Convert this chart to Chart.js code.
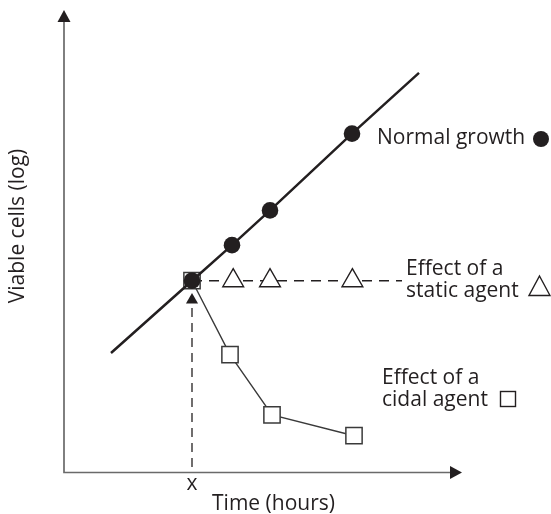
<!DOCTYPE html>
<html>
<head>
<meta charset="utf-8">
<script src="https://cdn.jsdelivr.net/npm/chart.js@4"></script>
<style>
  html, body { margin: 0; padding: 0; background: #fff; }
  canvas { display: block; }
</style>
</head>
<body>
<canvas id="growth" width="551" height="514" style="width:551px;height:514px"></canvas>
<script>
// Time points (arbitrary hour units) and log viable-cell levels
const growthTimes   = [3.2, 4.2, 5.15, 7.2];
const normalGrowth  = [4.8, 5.69, 6.56, 8.48];
const growthLineEnds = [[1.175, 2.99], [8.875, 10.0]];   // extent of the drawn growth line

const staticTimes   = [3.2, 4.23, 5.15, 7.21];
const staticAgent   = [4.8, 4.8, 4.8, 4.8];
const staticLineEnd = 8.45;

const cidalTimes    = [3.2, 4.15, 5.2, 7.25];
const cidalAgent    = [4.8, 2.95, 1.44, 0.92];

const treatmentTime = 3.2;      // "x" on the time axis
const treatmentArrowTop = 4.32;

const xLabel = 'Time (hours)';
const yLabel = 'Viable cells (log)';
const treatmentLabel = 'x';

const INK = '#231f20';
const FONT = '21px "Open Sans", "Liberation Sans", Arial, sans-serif';

const zip = (xs, ys) => xs.map((v, i) => ({ x: v, y: ys[i] }));

const growthData = [
  { x: growthLineEnds[0][0], y: growthLineEnds[0][1] },
  ...zip(growthTimes, normalGrowth),
  { x: growthLineEnds[1][0], y: growthLineEnds[1][1] }
];
const staticData = [...zip(staticTimes, staticAgent), { x: staticLineEnd, y: staticAgent[0] }];
const cidalData = zip(cidalTimes, cidalAgent);
const arrowData = [{ x: treatmentTime, y: 0.14 }, { x: treatmentTime, y: treatmentArrowTop }];

// Axes with arrow heads, captions and inline key symbols
const annotate = {
  id: 'annotate',
  beforeDatasetsDraw(chart) {
    const { ctx, scales: { x, y } } = chart;
    const ox = x.getPixelForValue(0), oy = y.getPixelForValue(0);
    ctx.save();
    ctx.strokeStyle = '#6a6a6a';
    ctx.lineWidth = 1.7;
    ctx.beginPath();
    ctx.moveTo(ox, oy + 0.8); ctx.lineTo(ox, 20);
    ctx.moveTo(ox - 0.8, oy); ctx.lineTo(452, oy);
    ctx.stroke();
    ctx.fillStyle = INK;
    ctx.beginPath();
    ctx.moveTo(ox, 10); ctx.lineTo(ox - 6.5, 22); ctx.lineTo(ox + 6.5, 22); ctx.closePath();
    ctx.fill();
    ctx.beginPath();
    ctx.moveTo(462, oy); ctx.lineTo(450, oy - 6.5); ctx.lineTo(450, oy + 6.5); ctx.closePath();
    ctx.fill();
    ctx.restore();
  },
  afterDraw(chart) {
    const { ctx, scales: { x } } = chart;
    ctx.save();
    ctx.fillStyle = INK;
    ctx.font = FONT;
    ctx.textBaseline = 'alphabetic';
    ctx.textAlign = 'left';
    ctx.fillText('Normal growth', 377, 144);
    ctx.fillText('Effect of a', 406, 275);
    ctx.fillText('static agent', 406, 297);
    ctx.fillText('Effect of a', 382, 384);
    ctx.fillText('cidal agent', 382, 406);

    ctx.textAlign = 'center';
    ctx.fillText(xLabel, 273.5, 510);
    ctx.fillText(treatmentLabel, x.getPixelForValue(treatmentTime), 490);

    ctx.save();
    ctx.translate(18, 226);
    ctx.rotate(-Math.PI / 2);
    ctx.textBaseline = 'middle';
    ctx.fillText(yLabel, 0, 0);
    ctx.restore();

    // key symbols
    ctx.beginPath();
    ctx.arc(541, 139, 8, 0, Math.PI * 2);
    ctx.fill();
    ctx.strokeStyle = INK;
    ctx.lineWidth = 1.4;
    ctx.beginPath();
    ctx.moveTo(539.5, 276); ctx.lineTo(550, 295.5); ctx.lineTo(529, 295.5); ctx.closePath();
    ctx.stroke();
    ctx.strokeRect(500.5, 391.5, 15, 15);
    ctx.restore();
  }
};

new Chart(document.getElementById('growth'), {
  type: 'scatter',
  data: {
    datasets: [
      {
        label: 'Normal growth',
        data: growthData,
        showLine: true,
        borderColor: INK,
        borderWidth: 2.5,
        backgroundColor: INK,
        pointBackgroundColor: INK,
        pointBorderWidth: 0,
        pointRadius: growthData.map((_, i) => (i === 0 || i === growthData.length - 1) ? 0 : 8.3),
        pointStyle: 'circle',
        order: 0
      },
      {
        label: 'Effect of a cidal agent',
        data: cidalData,
        showLine: true,
        borderColor: '#3a3a3a',
        borderWidth: 1.4,
        pointStyle: 'rect',
        pointRadius: 11.5,
        pointBackgroundColor: '#fff',
        pointBorderColor: '#3a3a3a',
        pointBorderWidth: 1.5,
        order: 1
      },
      {
        label: 'Effect of a static agent',
        data: staticData,
        showLine: true,
        borderColor: INK,
        borderWidth: 1.4,
        borderDash: [10, 7],
        pointStyle: 'triangle',
        pointRadius: staticData.map((_, i) => (i === 0 || i === staticData.length - 1) ? 0 : 12),
        pointBackgroundColor: '#fff',
        pointBorderColor: INK,
        pointBorderWidth: 1.4,
        order: 2
      },
      {
        label: 'Treatment',
        data: arrowData,
        showLine: true,
        borderColor: INK,
        borderWidth: 1.3,
        borderDash: [9, 6],
        pointStyle: 'triangle',
        pointRadius: [0, 7],
        pointBackgroundColor: INK,
        pointBorderWidth: 0,
        order: 3
      }
    ]
  },
  options: {
    responsive: false,
    animation: false,
    devicePixelRatio: 1,
    layout: { padding: { left: 64, right: 87, top: 12.5, bottom: 41.5 } },
    plugins: { legend: { display: false }, tooltip: { enabled: false } },
    scales: {
      x: { type: 'linear', min: 0, max: 10, display: false },
      y: { type: 'linear', min: 0, max: 11.5, display: false }
    }
  },
  plugins: [annotate]
});
</script>
</body>
</html>
